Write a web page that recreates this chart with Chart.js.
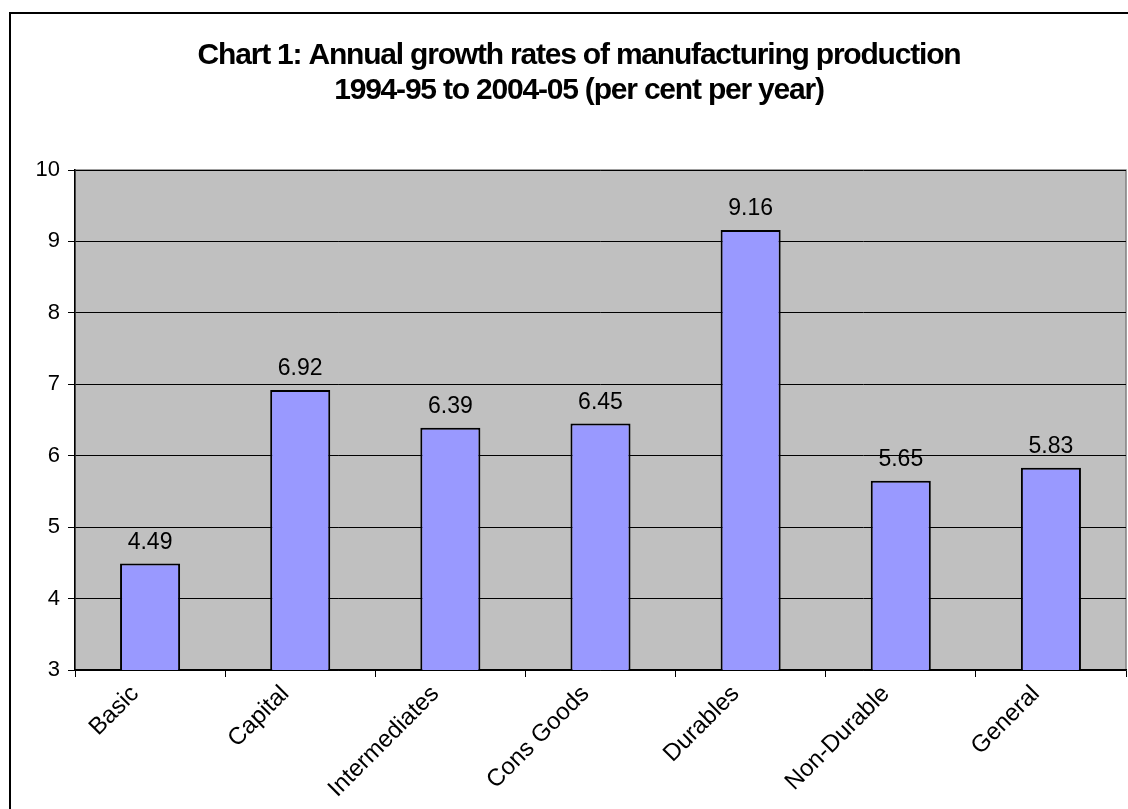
<!DOCTYPE html>
<html>
<head>
<meta charset="utf-8">
<title>Chart 1: Annual growth rates of manufacturing production</title>
<script src="https://cdn.jsdelivr.net/npm/chart.js@4.4.1/dist/chart.umd.min.js"></script>
<style>
  html, body { margin: 0; padding: 0; background: #fff; }
  #wrap { position: relative; width: 1128px; height: 809px; overflow: hidden; }
  #frame { position: absolute; left: 9px; top: 12px; width: 1140px; height: 820px; border: 2px solid #000; box-sizing: border-box; pointer-events: none; }
</style>
</head>
<body>
<div id="wrap">
  <canvas id="chart" width="1128" height="809"></canvas>
  <div id="frame"></div>
</div>
<script>
// data
const titleLines = ['Chart 1: Annual growth rates of manufacturing production', '1994-95 to 2004-05 (per cent per year)'];
const categories = ['Basic', 'Capital', 'Intermediates', 'Cons Goods', 'Durables', 'Non-Durable', 'General'];
const growthRates = [4.49, 6.92, 6.39, 6.45, 9.16, 5.65, 5.83];
const yMin = 3;
const yMax = 10;

const FONT = '"Liberation Sans", Arial, sans-serif';

// grey plot area + its border, like the old Excel look
const plotBackground = {
  id: 'plotBackground',
  beforeDraw(chart) {
    const { ctx, chartArea: a } = chart;
    ctx.save();
    ctx.fillStyle = '#c0c0c0';
    ctx.fillRect(a.left, a.top, a.right - a.left, a.bottom - a.top);
    ctx.strokeStyle = '#808080';
    ctx.lineWidth = 1.5;
    ctx.strokeRect(a.left, a.top, a.right - a.left, a.bottom - a.top);
    ctx.restore();
  }
};

// two-line bold title, slightly squeezed like the original
const chartTitle = {
  id: 'chartTitle',
  afterDraw(chart) {
    const { ctx } = chart;
    ctx.save();
    ctx.font = 'bold 30px ' + FONT;
    if ('letterSpacing' in ctx) ctx.letterSpacing = '-1.2px';
    ctx.fillStyle = '#000';
    ctx.textAlign = 'center';
    ctx.textBaseline = 'alphabetic';
    ctx.fillText(titleLines[0], 579, 64);
    ctx.fillText(titleLines[1], 579, 99);
    ctx.restore();
  }
};

// value labels above each bar
const valueLabels = {
  id: 'valueLabels',
  afterDatasetsDraw(chart) {
    const { ctx } = chart;
    const meta = chart.getDatasetMeta(0);
    ctx.save();
    ctx.font = '23px ' + FONT;
    ctx.fillStyle = '#000';
    ctx.textAlign = 'center';
    ctx.textBaseline = 'alphabetic';
    meta.data.forEach((bar, i) => {
      ctx.fillText(growthRates[i].toFixed(2), bar.x, bar.y - 15);
    });
    ctx.restore();
  }
};

const ctx = document.getElementById('chart').getContext('2d');
new Chart(ctx, {
  type: 'bar',
  data: {
    labels: categories,
    datasets: [{
      data: growthRates,
      backgroundColor: '#9999ff',
      borderColor: '#000',
      borderWidth: 2,
      borderSkipped: false,
      barPercentage: 0.4,
      categoryPercentage: 1
    }]
  },
  options: {
    responsive: false,
    animation: false,
    layout: { padding: { left: 9, right: 2, top: 170, bottom: 0 } },
    plugins: {
      legend: { display: false },
      tooltip: { enabled: false },
      title: { display: false }
    },
    scales: {
      x: {
        grid: { offset: true, drawOnChartArea: false, drawTicks: true, tickLength: 7, color: '#000' },
        border: { display: true, color: '#000', width: 1.5 },
        ticks: {
          color: '#000',
          font: { family: FONT, size: 24 },
          minRotation: 45,
          maxRotation: 45,
          labelOffset: -15,
          padding: 3
        },
        afterFit(scale) { scale.height = 139; }
      },
      y: {
        min: yMin,
        max: yMax,
        grid: { color: '#000', lineWidth: 1, tickLength: 7 },
        border: { display: true, color: '#000', width: 1.5 },
        ticks: {
          stepSize: 1,
          color: '#000',
          font: { family: FONT, size: 22 },
          padding: 8
        },
        afterFit(scale) { scale.width = 66; }
      }
    }
  },
  plugins: [plotBackground, chartTitle, valueLabels]
});
</script>
</body>
</html>
